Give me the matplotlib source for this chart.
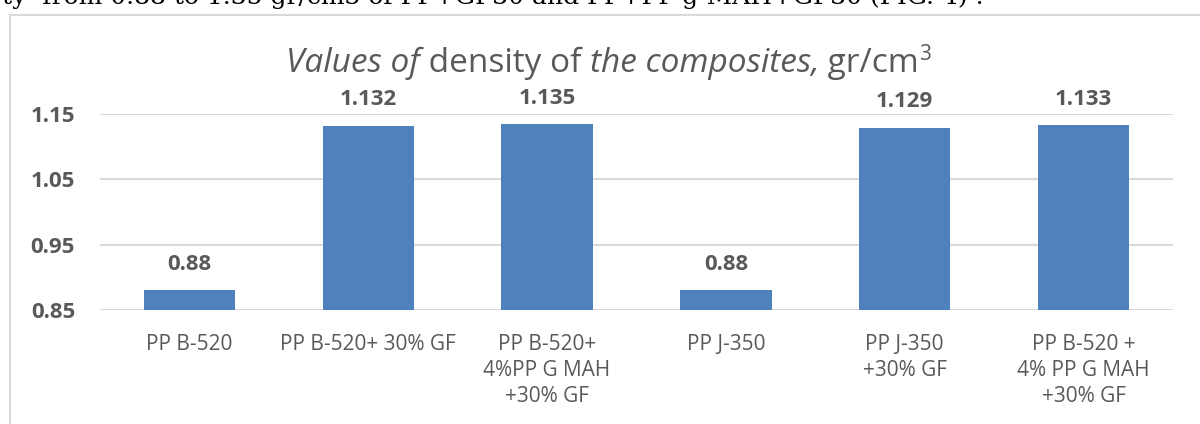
import matplotlib
matplotlib.use('Agg')
import matplotlib.pyplot as plt
from matplotlib.patches import Rectangle

categories = ['PP B-520', 'PP B-520+ 30% GF', 'PP B-520+\n4%PP G MAH\n+30% GF',
              'PP J-350', 'PP J-350\n+30% GF', 'PP B-520 +\n4% PP G MAH\n+30% GF']
density = [0.88, 1.132, 1.135, 0.88, 1.129, 1.133]
value_labels = ['0.88', '1.132', '1.135', '0.88', '1.129', '1.133']
yticks = [0.85, 0.95, 1.05, 1.15]

# title pieces: (text, italic)
title_parts = [('Values of', True), (' density of ', False), ('the composites,', True), (' gr/cm', False)]
page_text = 'ty  from 0.88 to 1.35 gr/cm3 of PP+GF30 and PP+PP-g-MAH+GF30 (FIG. 4) .'

BLUE = '#4F81BD'
GRAY = '#595959'
GRID = '#D9D9D9'

plt.rcParams['font.family'] = ['Open Sans', 'DejaVu Sans']

W, H = 1200, 424
fig = plt.figure(figsize=(W / 100, H / 100), dpi=100)
ax = fig.add_axes([100 / W, 1 - 310 / H, (1173 - 100) / W, (310 - 114) / H])

x = list(range(len(categories)))
ax.bar(x, [v - 0.85 for v in density], bottom=0.85, width=0.51, color=BLUE, zorder=3)
for xi, v, lab in zip(x, density, value_labels):
    ax.annotate(lab, (xi, v), xytext=(0, 11), textcoords='offset points',
                ha='center', va='bottom', fontsize=16, fontweight='bold', color=GRAY)

ax.set_xlim(-0.5, len(categories) - 0.5)
ax.set_ylim(0.85, 1.15)
ax.set_yticks(yticks)
ax.set_yticklabels([f'{t:.2f}' for t in yticks], fontsize=16, fontweight='bold', color=GRAY)
ax.set_xticks(x)
ax.set_xticklabels(categories, fontsize=15, color=GRAY, linespacing=1.32)
ax.tick_params(axis='y', length=0, pad=18)
ax.tick_params(axis='x', length=0, pad=17)
ax.yaxis.grid(True, color=GRID, lw=1.5, zorder=0)
for s in ax.spines.values():
    s.set_visible(False)

# outer chart border (cropped)
fig.patches.append(Rectangle((10 / W, -0.1), 1.2, 1.1 - 15 / H, transform=fig.transFigure,
                             fill=False, edgecolor=GRID, lw=1.5))

# cropped page text above the chart
fig.text(2 / W, 1 - 4 / H, page_text, fontsize=18, family='DejaVu Serif', color='black',
         ha='left', va='baseline')

# title made of italic / regular pieces
renderer = fig.canvas.get_renderer()
tx = 286 / W
ty = 1 - 72 / H
for txt, it in title_parts:
    t = fig.text(tx, ty, txt, fontsize=24, color=GRAY, style='italic' if it else 'normal',
                 ha='left', va='baseline')
    bb = t.get_window_extent(renderer)
    tx = bb.x1 / W
fig.text(tx, ty + 12 / H, '3', fontsize=15, color=GRAY, ha='left', va='baseline')

fig.savefig('out.png', dpi=100)
